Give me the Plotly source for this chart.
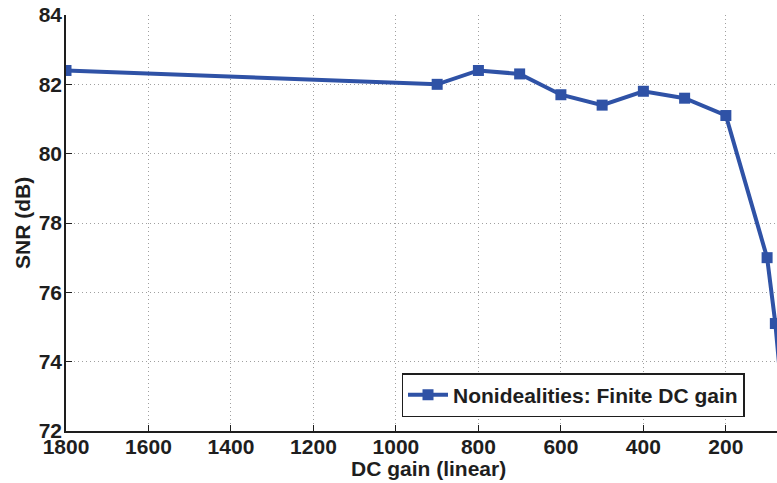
import plotly.graph_objects as go

dc_gain = [1800, 900, 800, 700, 600, 500, 400, 300, 200, 100, 80, 60]
snr_db = [82.4, 82.0, 82.4, 82.3, 81.7, 81.4, 81.8, 81.6, 81.1, 77.0, 75.1, 72.5]
x_ticks = [1800, 1600, 1400, 1200, 1000, 800, 600, 400, 200]
y_ticks = [72, 74, 76, 78, 80, 82, 84]

color = "#2f52a6"
FAM = "Liberation Sans, Arial, sans-serif"
TXT = "#1e1e1e"
font = dict(family=FAM, size=21, color=TXT)

fig = go.Figure()
fig.add_trace(go.Scatter(
    x=dc_gain, y=snr_db, mode="lines+markers",
    name="<b>Nonidealities: Finite DC gain</b>",
    line=dict(color=color, width=4),
    marker=dict(symbol="square", size=11, color=color),
))

L, T, B = 66, 15, 52
XR = [1800, 76]
grid = dict(showgrid=True, gridcolor="#a0a0a0", griddash="1px,3px", gridwidth=1, zeroline=False)
axline = dict(showline=True, linecolor="#1e1e1e", linewidth=1.5,
              ticks="inside", ticklen=6, tickcolor="#1e1e1e", automargin=False)

fig.update_layout(
    width=777, height=483,
    margin=dict(l=L, r=0, t=T, b=B, autoexpand=False),
    paper_bgcolor="white", plot_bgcolor="white",
    font=font,
    showlegend=True,
    legend=dict(x=(573 - L) / (777 - L), y=(431 - 395) / 416, xanchor="center", yanchor="middle",
                bgcolor="white", bordercolor="#1e1e1e", borderwidth=1.5,
                font=dict(size=21, family=FAM, color=TXT),
                itemwidth=40),
    xaxis=dict(range=XR, tickvals=x_ticks, ticktext=[f"<b>{v}</b>" for v in x_ticks],
               ticklabelstandoff=-4, **axline, **grid),
    xaxis2=dict(overlaying="x", side="top", range=XR, tickvals=x_ticks,
                showticklabels=False, showgrid=False, zeroline=False, **axline),
    yaxis=dict(range=[72, 84], tickvals=y_ticks, ticktext=[f"<b>{v}</b>" for v in y_ticks],
               ticklabelstandoff=-2, **axline, **grid),
)
fig.add_annotation(text="<b>DC gain (linear)</b>", xref="paper", yref="paper",
                   x=(428 - L) / (777 - L), y=-(468 - 431) / 416, showarrow=False,
                   xanchor="center", yanchor="middle", font=dict(size=21, family=FAM, color=TXT))
fig.add_annotation(text="<b>SNR (dB)</b>", xref="paper", yref="paper",
                   x=-(L - 22) / (777 - L), y=0.5, showarrow=False, textangle=-90,
                   xanchor="center", yanchor="middle", font=dict(size=21, family=FAM, color=TXT))

fig.write_html("out.html", config={"displayModeBar": False},
               post_script="document.body.style.margin='0';document.body.style.overflow='hidden';")
